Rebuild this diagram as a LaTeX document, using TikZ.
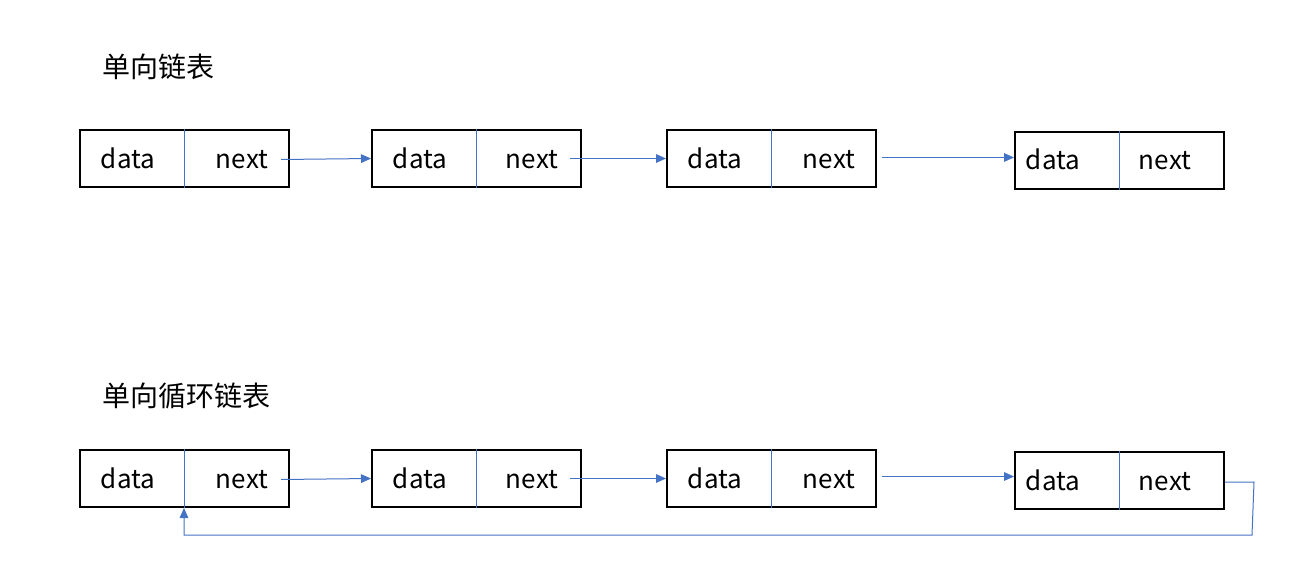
\documentclass[tikz,border=0pt]{standalone}
\usepackage{fontspec}
\setmainfont{Noto Sans CJK SC}
\usetikzlibrary{arrows.meta,calc}
\definecolor{lnblue}{RGB}{68,114,196}
\tikzset{
  cell/.style={draw=black,line width=1.5pt,minimum width=156.75pt,minimum height=42.75pt,inner sep=0pt},
  lbl/.style={inner sep=0pt,anchor=base,font=\fontsize{19.5}{21}\selectfont},
  ttl/.style={inner sep=0pt,anchor=base west,font=\fontsize{21}{23}\selectfont},
  divl/.style={draw=lnblue,line width=0.75pt},
  link/.style={draw=lnblue,line width=0.75pt,-{Triangle[length=7.5pt,width=6.5pt]}}
}
\begin{document}
\begin{tikzpicture}[x=0.75pt,y=-0.75pt]
\useasboundingbox (0,0) rectangle (1301,567);
\node[ttl] (t1) at (102,77) {单向链表};
\node[ttl] (t2) at (102,406) {单向循环链表};
\foreach \n/\x/\y/\dx/\nx in {a1/79/158.5/49/163,a2/371/158.5/49/161,a3/666/158.5/49/163,a4/1014/160/39/151,b1/79/478.5/49/163,b2/371/478.5/49/161,b3/666/478.5/49/163,b4/1014/480.5/39/151}{
  \node[cell,anchor=west] (\n) at (\x,\y) {};
  \coordinate (\n dt) at ($(\n.north west)+(105*0.75pt,0)$);
  \coordinate (\n db) at ($(\n.south west)+(105*0.75pt,0)$);
  \draw[divl] (\n dt) -- (\n db);
  \node[lbl] (\n d) at ($(\n.west)+(\dx*0.75pt,-9.5*0.75pt)$) {data};
  \node[lbl] (\n n) at ($(\n.west)+(\nx*0.75pt,-9.5*0.75pt)$) {next};
  \coordinate (\n o) at ($(\n.east)+(-9*0.75pt,-1*0.75pt)$);
}
\coordinate (a3o) at ($(a3.east)+(5*0.75pt,1*0.75pt)$);
\coordinate (b3o) at ($(b3.east)+(5*0.75pt,2*0.75pt)$);
\coordinate (a2o) at ($(a2.east)+(-12*0.75pt,0)$);
\coordinate (b2o) at ($(b2.east)+(-12*0.75pt,0)$);
\draw[link] (a1o) -- (a2.west);
\draw[link] (a2o) -- (a3.west);
\draw[link] (a3o) -- (a3o -| a4.west);
\draw[link] (b1o) -- (b2.west);
\draw[link] (b2o) -- (b3.west);
\draw[link] (b3o) -- (b3o -| b4.west);
\coordinate (r1) at ($(b4.east)+(29*0.75pt,-1.5*0.75pt)$);
\coordinate (r2) at (1252,535);
\coordinate (r3) at (184,535);
\draw[link] ($(b4.east)+(0,-1.5*0.75pt)$) -- (r1) -- (r2) -- (r3) -- (b1db);
\end{tikzpicture}
\end{document}
